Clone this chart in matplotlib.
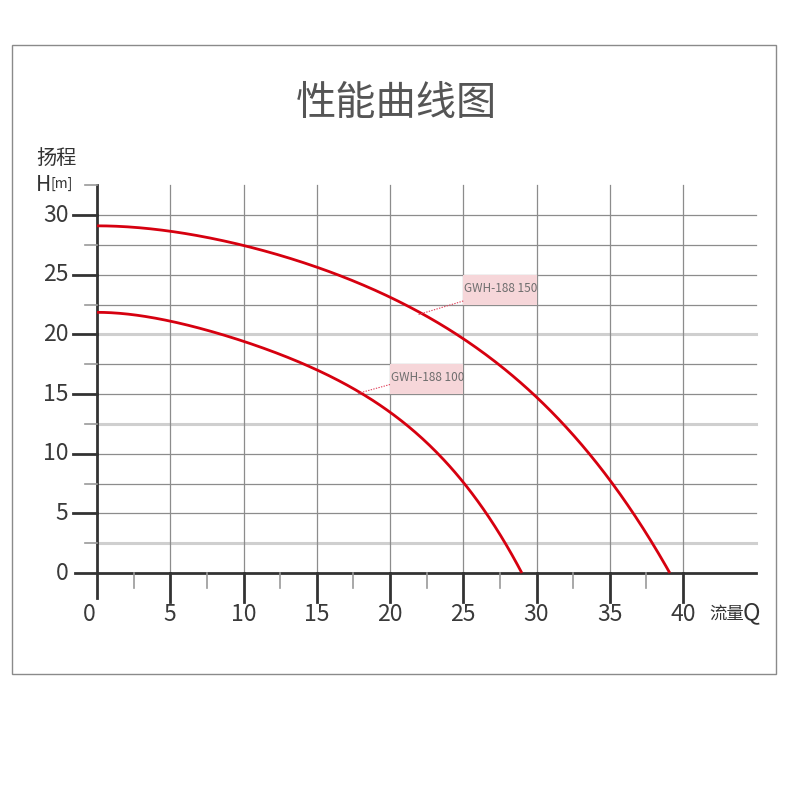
import numpy as np
import matplotlib
matplotlib.use("Agg")
import matplotlib.pyplot as plt
from matplotlib.patches import Rectangle

plt.rcParams['font.family'] = ['Noto Sans CJK SC', 'DejaVu Sans']

# ---- data ----
title = "性能曲线图"
y_label_top = "扬程"
y_label_unit = "H"
x_label = "流量"
x_ticks = [0, 5, 10, 15, 20, 25, 30, 35, 40]
y_ticks = [0, 5, 10, 15, 20, 25, 30]

series_names = ["GWH-188 150", "GWH-188 100"]
q150 = [0, 5, 10, 15, 20, 22.5, 25, 27.5, 30, 32.5, 35, 37.5, 39.1]
h150 = [29.1, 28.75, 27.7, 25.75, 23.1, 21.5, 19.5, 17.3, 14.8, 11.5, 7.9, 3.9, 0]
q100 = [0, 5, 10, 15, 17.5, 20, 22.5, 25, 27.5, 29.0]
h100 = [21.85, 21.15, 19.6, 17.15, 15.3, 13.45, 10.7, 7.65, 3.9, 0]

# label boxes (Q range, H range)
box150 = (25, 30, 22.5, 25)
box100 = (20, 25, 15, 17.5)


def smooth(xs, ys, n=300):
    # least-squares curve through the read points with zero slope at Q=0
    xs = np.asarray(xs, float); ys = np.asarray(ys, float)
    A = np.column_stack([np.ones_like(xs), xs ** 2, xs ** 3, xs ** 4])
    w = np.ones_like(xs); w[0] = w[-1] = 6
    c, *_ = np.linalg.lstsq(A * w[:, None], ys * w, rcond=None)
    sx = np.linspace(xs[0], xs[-1], n)
    B = np.column_stack([np.ones_like(sx), sx ** 2, sx ** 3, sx ** 4])
    sy = B @ c
    end_err = sy[-1] - ys[-1]
    start_err = sy[0] - ys[0]
    t = (sx - xs[0]) / (xs[-1] - xs[0])
    sy = sy - (1 - t) * start_err - t * end_err
    return sx, sy


W, H = 790, 797
fig = plt.figure(figsize=(W / 100, H / 100), dpi=100)
fig.patch.set_facecolor('white')

# outer frame
fig.add_artist(Rectangle((12 / W, 1 - 674 / H), (776 - 12) / W, (674 - 45) / H,
                         transform=fig.transFigure, fill=False, edgecolor='#8a8a8a', lw=1.0))

px_x, px_y = 14.65, 11.93
x0, y0 = 97, 573
xmax, ymax = 45, 32.5
ax = fig.add_axes([x0 / W, (H - y0) / H, xmax * px_x / W, ymax * px_y / H])
ax.set_xlim(0, xmax)
ax.set_ylim(0, ymax)
ax.axis('off')

grid_c = '#8c8c8c'
dark = '#333333'
light_rows = [20, 12.5, 2.5]
for h in np.arange(2.5, 30.01, 2.5):
    if any(abs(h - l) < 1e-6 for l in light_rows):
        ax.plot([0, 45], [h, h], color='#cfcfcf', lw=2.2, clip_on=False, zorder=1)
    else:
        ax.plot([0, 45], [h, h], color=grid_c, lw=0.9, clip_on=False, zorder=1)
for q in x_ticks[1:]:
    ax.plot([q, q], [0, 32.5], color=grid_c, lw=0.9, clip_on=False, zorder=1)

# axes lines
ax.plot([0, 0], [-2.1, 32.5], color=dark, lw=2, clip_on=False, zorder=3)
ax.plot([-1.5, 45], [0, 0], color=dark, lw=2, clip_on=False, zorder=3)

# x ticks
for q in x_ticks[1:]:
    ax.plot([q, q], [0, -2.4], color=dark, lw=2, clip_on=False, zorder=3)
for q in np.arange(2.5, 37.6, 5):
    ax.plot([q, q], [0, -1.25], color='#999999', lw=1.2, clip_on=False, zorder=3)
# y ticks
for h in y_ticks[1:]:
    ax.plot([0, -1.64], [h, h], color=dark, lw=2, clip_on=False, zorder=3)
for h in np.arange(2.5, 32.6, 5):
    ax.plot([0, -0.8], [h, h], color='#999999', lw=1.2, clip_on=False, zorder=3)

tick_c = '#3a3a3a'
for q in x_ticks:
    ax.text(q - (0.55 if q == 0 else 0), -3.45, str(q), ha='center', va='center',
            fontsize=16.5, color=tick_c, clip_on=False, fontweight='light')
for h in y_ticks:
    ax.text(-1.95, h, str(h), ha='right', va='center', fontsize=16.5, color=tick_c,
            clip_on=False, fontweight='light')

# curves
red = '#d6000f'
for qs, hs in [(q150, h150), (q100, h100)]:
    sx, sy = smooth(qs, hs)
    ax.plot(sx, sy, color=red, lw=2.0, clip_on=False, zorder=4, solid_capstyle='butt')

# label boxes
for (qa, qb, ha_, hb), name in [(box150, series_names[0]), (box100, series_names[1])]:
    ax.add_patch(Rectangle((qa, ha_), qb - qa, hb - ha_, facecolor='#f6d6d9',
                           edgecolor='none', zorder=2))
    ax.text(qa + 0.05, (ha_ + hb) / 2 + 0.1, name, ha='left', va='center', fontsize=8.5,
            color='#6e6e6e', zorder=5)
# leaders
ax.plot([25, 21.9], [22.8, 21.65], color='#e0405a', lw=0.8, ls=(0, (1.2, 1.2)), zorder=5)
ax.plot([20, 17.8], [15.8, 15.05], color='#e0405a', lw=0.8, ls=(0, (1.2, 1.2)), zorder=5)

# title and labels
fig.text(396 / W, 1 - 103 / H, title, ha='center', va='center', fontsize=29,
         color='#555555', fontweight='medium')
fig.text(36 / W, 1 - 158 / H, y_label_top, ha='left', va='center', fontsize=14.5, color='#333333')
fig.text(36 / W, 1 - 185 / H, y_label_unit, ha='left', va='center', fontsize=15, color='#333333',
         fontweight='light')
fig.text(51 / W, 1 - 184 / H, "[m]", ha='left', va='center', fontsize=10, color='#333333')
fig.text(709 / W, 1 - 614 / H, x_label, ha='left', va='center', fontsize=12.5, color='#333333')
fig.text(743 / W, 1 - 613 / H, "Q", ha='left', va='center', fontsize=17, color='#333333')

fig.savefig('out.png', dpi=100, facecolor='white')
